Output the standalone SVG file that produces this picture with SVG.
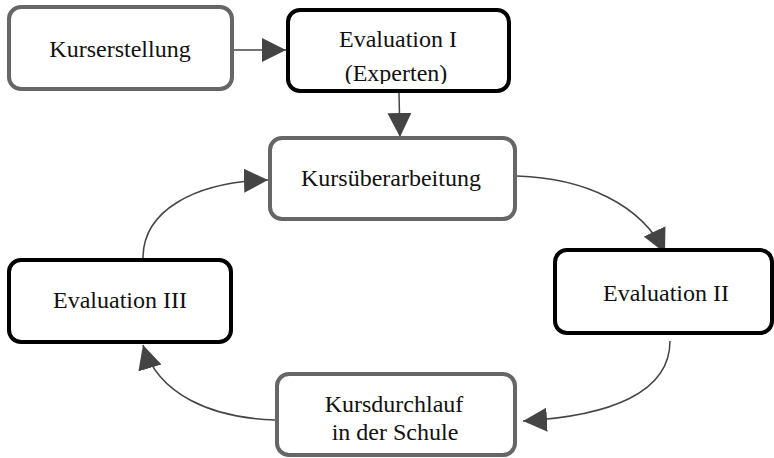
<svg xmlns="http://www.w3.org/2000/svg" width="774" height="458" viewBox="0 0 774 458">
<style>
.box{fill:#fff;stroke-width:4}
.gray{stroke:#666}
.black{stroke:#000}
text{font-family:'Liberation Serif','Times New Roman','DejaVu Serif',Times,serif;font-size:24px;fill:#111;text-anchor:middle}
.conn path,.conn line{fill:none;stroke:#444;stroke-width:1.5}
</style>
<defs>
<marker id="ah" markerUnits="userSpaceOnUse" markerWidth="24" markerHeight="24" viewBox="0 0 22 22" refX="22" refY="11" orient="auto">
<path d="M0,0 L22,11 L0,22 Z" fill="#444"/>
</marker>
<clipPath id="clipE1"><rect x="288" y="10" width="221" height="74"/></clipPath>
</defs>
<rect width="774" height="458" fill="#fff"/>
<g class="conn" id="connectors">
<line x1="234" y1="50" x2="286" y2="50" marker-end="url(#ah)"/>
<line x1="399" y1="93" x2="400" y2="137" marker-end="url(#ah)"/>
<path d="M517,176 C585,178 642,205 665,253" marker-end="url(#ah)"/>
<path d="M670,341 C670,392 612,416 523,421" marker-end="url(#ah)"/>
<path d="M275,420 C212,418 158,395 143,345" marker-end="url(#ah)"/>
<path d="M143,258 C143,212 192,182 268,180" marker-end="url(#ah)"/>
</g>
<g id="kurserstellung">
<rect class="box gray" x="9" y="7" width="223" height="82" rx="12"/>
<text x="120" y="57" font-family="Liberation Serif, serif">Kurserstellung</text>
</g>
<g id="evaluation1">
<rect class="box black" x="288" y="10" width="221" height="81" rx="12"/>
<g clip-path="url(#clipE1)">
<text x="398" y="47">Evaluation I</text>
<text x="396" y="81">(Experten)</text>
</g>
</g>
<g id="kursueberarbeitung">
<rect class="box gray" x="270" y="138" width="245" height="81" rx="12"/>
<text x="391" y="186">Kursüberarbeitung</text>
</g>
<g id="evaluation2">
<rect class="box black" x="555" y="250" width="217" height="83" rx="12"/>
<text x="666" y="301">Evaluation II</text>
</g>
<g id="evaluation3">
<rect class="box black" x="9" y="260" width="222" height="82" rx="12"/>
<text x="120" y="308">Evaluation III</text>
</g>
<g id="kursdurchlauf">
<rect class="box gray" x="277" y="374" width="238" height="81" rx="12"/>
<text x="394" y="412">Kursdurchlauf</text>
<text x="395" y="440">in der Schule</text>
</g>
</svg>
